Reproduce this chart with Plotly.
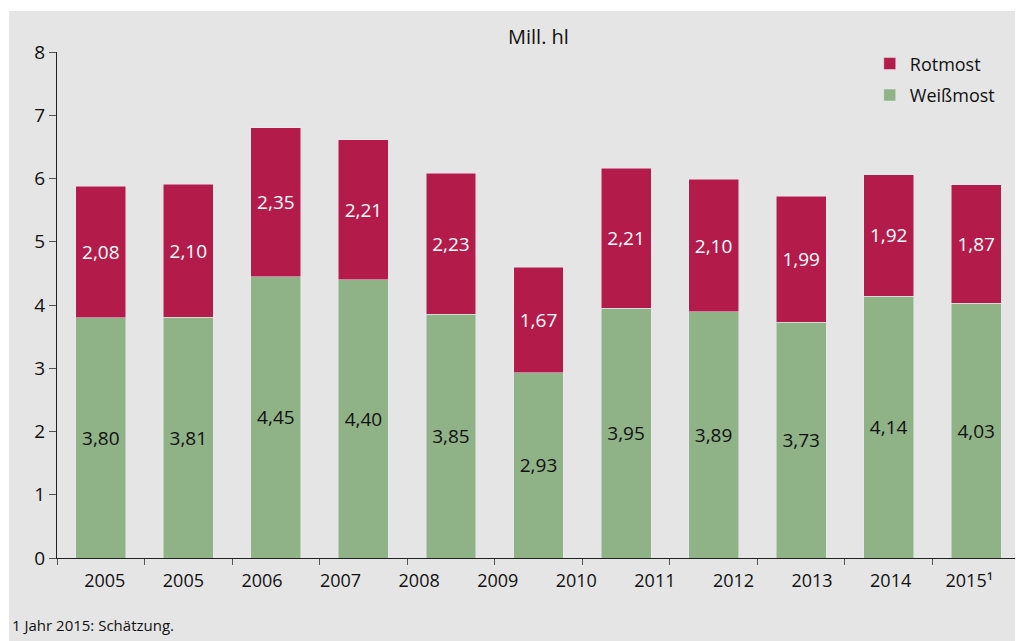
import numpy as np
import plotly.graph_objects as go

# values as printed in the bars (Mill. hl)
weissmost = [3.80, 3.81, 4.45, 4.40, 3.85, 2.93, 3.95, 3.89, 3.73, 4.14, 4.03]
rotmost = [2.08, 2.10, 2.35, 2.21, 2.23, 1.67, 2.21, 2.10, 1.99, 1.92, 1.87]
year_labels = ["2005", "2005", "2006", "2007", "2008", "2009",
               "2010", "2011", "2012", "2013", "2014", "2015¹"]

RED = "#b31c4a"
GREEN = "#8fb287"
BG = "#e5e5e5"
FONT = "Open Sans, Noto Sans, Arial, sans-serif"

bar_x = list(range(len(weissmost)))
n = len(bar_x)

fig = go.Figure()

fig.add_trace(go.Bar(
    x=bar_x, y=weissmost, name="Weißmost", marker_color=GREEN,
    width=0.57, legendgroup="w", legendrank=2,
    texttemplate="%{y:.2f}", textposition="inside", insidetextanchor="middle",
    textfont=dict(color="#111111", size=19, family=FONT),
    constraintext="none", hoverinfo="skip",
))
fig.add_trace(go.Bar(
    x=bar_x, y=rotmost, name="Rotmost", marker_color=RED,
    width=0.57, legendgroup="r", legendrank=1,
    texttemplate="%{y:.2f}", textposition="inside", insidetextanchor="middle",
    textfont=dict(color="white", size=19, family=FONT),
    constraintext="none", hoverinfo="skip",
))
# carrier for the label axis (twelve evenly spread year labels under eleven bars)
fig.add_trace(go.Scatter(x=[], y=[], xaxis="x2", showlegend=False, hoverinfo="skip"))

label_pos = list(np.linspace(0.046, 9.92, len(year_labels)))

# grey panel behind everything
fig.add_shape(type="rect", xref="paper", yref="paper",
              x0=-0.0498, x1=1.02, y0=-0.17, y1=1.081,
              fillcolor=BG, line_width=0, layer="below")

fig.add_annotation(text="Mill. hl", xref="paper", yref="paper", x=0.5, y=1.03,
                   xanchor="center", yanchor="middle", showarrow=False,
                   font=dict(size=20, color="#111111", family=FONT))
fig.add_annotation(text="1 Jahr 2015: Schätzung.", xref="paper", yref="paper",
                   x=-0.049, y=-0.132, xanchor="left", yanchor="middle",
                   showarrow=False, font=dict(size=15, color="#111111", family=FONT))

fig.update_layout(
    width=1015, height=633,
    margin=dict(l=49, r=3, t=44, b=83),
    paper_bgcolor="white", plot_bgcolor="rgba(0,0,0,0)",
    barmode="stack", separators=", ",
    font=dict(family=FONT, color="#111111"),
    showlegend=True,
    legend=dict(x=0.844, y=1.013, xanchor="left", yanchor="top",
                traceorder="grouped", tracegroupgap=5,
                bgcolor="rgba(0,0,0,0)", font=dict(size=18, family=FONT)),
    xaxis=dict(range=[-0.5, n - 0.5], showgrid=False, zeroline=False,
               showline=True, linecolor="#222222", linewidth=1,
               tickmode="array", tickvals=[i - 0.5 for i in range(n + 1)],
               ticktext=[""] * (n + 1), ticks="outside", ticklen=6,
               tickcolor="#555555", tickwidth=1),
    xaxis2=dict(overlaying="x", anchor="y", range=[-0.5, n - 0.5],
                showgrid=False, zeroline=False, showline=False,
                tickmode="array", tickvals=label_pos, ticktext=year_labels,
                ticks="outside", ticklen=6, tickcolor="rgba(0,0,0,0)",
                tickfont=dict(size=18, family=FONT, color="#111111")),
    yaxis=dict(range=[0, 8], dtick=1, showgrid=False, zeroline=False,
               showline=True, linecolor="#222222", linewidth=1,
               ticks="outside", ticklen=7, tickcolor="#555555",
               tickfont=dict(size=19, family=FONT, color="#111111")),
)

fig.write_html("out.html")
